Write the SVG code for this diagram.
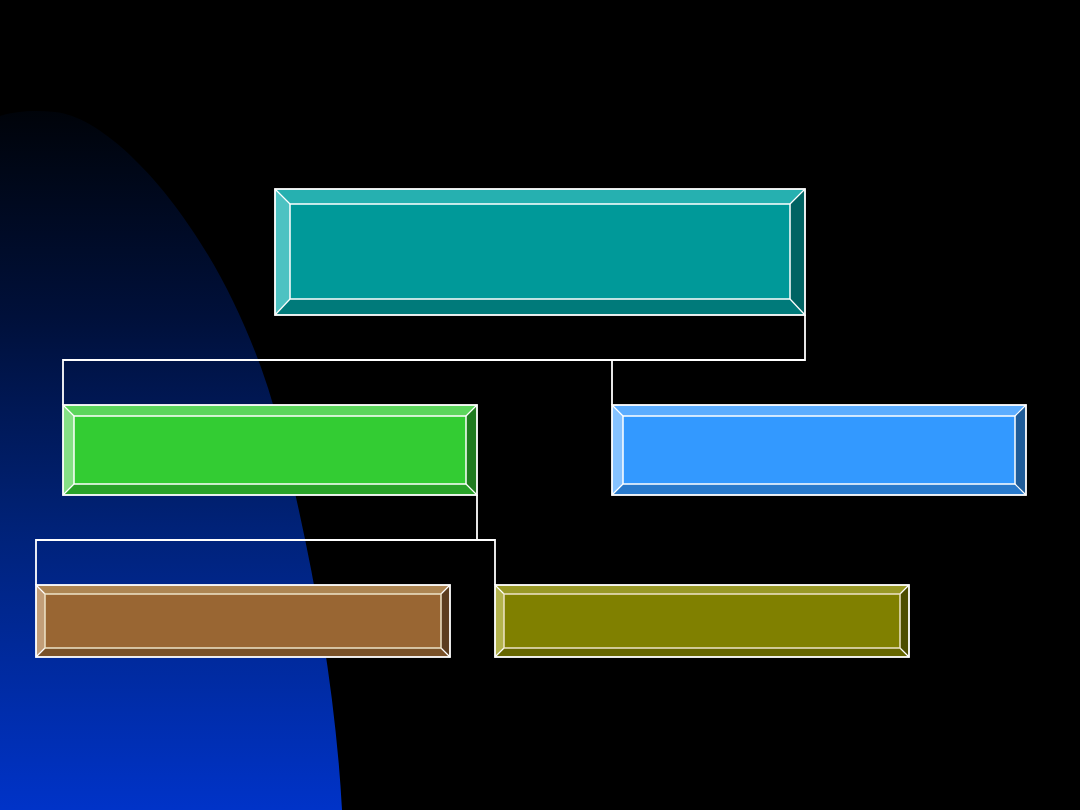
<svg xmlns="http://www.w3.org/2000/svg" width="1080" height="810" viewBox="0 0 1080 810">
<defs>
<linearGradient id="bg" gradientUnits="userSpaceOnUse" x1="0" y1="105" x2="0" y2="810">
<stop offset="0" stop-color="#000308"/>
<stop offset="0.3" stop-color="#00103a"/>
<stop offset="0.6" stop-color="#002278"/>
<stop offset="1" stop-color="#0033c8"/>
</linearGradient>
<style>
.edge{stroke:#ffffff;stroke-width:1.8;fill:none}
.inner{stroke:#ffffff;stroke-width:1.5;fill:none}
.innerc{stroke:#eee4c8;stroke-width:1.5;fill:none}
.diag{stroke:#ffffff;stroke-width:1.2}
.conn{stroke:#ffffff;stroke-width:1.8;fill:none}
</style>
</defs>
<rect width="1080" height="810" fill="#000000"/>
<path d="M0,116 C15,111 35,110 55,112 C120,118 235,250 280,430 C310,550 335,680 342,810 L0,810 Z" fill="url(#bg)"/>

<g id="connectors">
<polyline class="conn" points="805,315 805,360 63,360 63,405"/>
<line class="conn" x1="612" y1="360" x2="612" y2="405"/>
<polyline class="conn" points="477,495 477,540 36,540 36,585"/>
<polyline class="conn" points="477,540 495,540 495,585"/>
</g>

<g id="node-top">
<rect x="290" y="204" width="500" height="95" fill="#009999"/>
<polygon points="275,189 805,189 790,204 290,204" fill="#26b0b0"/>
<polygon points="275,189 290,204 290,299 275,315" fill="#4dc2c2"/>
<polygon points="275,315 290,299 790,299 805,315" fill="#007a7a"/>
<polygon points="805,189 805,315 790,299 790,204" fill="#006363"/>
<line class="diag" x1="275" y1="189" x2="290" y2="204"/>
<line class="diag" x1="805" y1="189" x2="790" y2="204"/>
<line class="diag" x1="275" y1="315" x2="290" y2="299"/>
<line class="diag" x1="805" y1="315" x2="790" y2="299"/>
<rect class="inner" x="290" y="204" width="500" height="95"/>
<rect class="edge" x="275" y="189" width="530" height="126"/>
</g>

<g id="node-green">
<rect x="74" y="416" width="392" height="68" fill="#33cc33"/>
<polygon points="63,405 477,405 466,416 74,416" fill="#5cd65c"/>
<polygon points="63,405 74,416 74,484 63,495" fill="#85e085"/>
<polygon points="63,495 74,484 466,484 477,495" fill="#29a329"/>
<polygon points="477,405 477,495 466,484 466,416" fill="#1f7a1f"/>
<line class="diag" x1="63" y1="405" x2="74" y2="416"/>
<line class="diag" x1="477" y1="405" x2="466" y2="416"/>
<line class="diag" x1="63" y1="495" x2="74" y2="484"/>
<line class="diag" x1="477" y1="495" x2="466" y2="484"/>
<rect class="inner" x="74" y="416" width="392" height="68"/>
<rect class="edge" x="63" y="405" width="414" height="90"/>
</g>

<g id="node-blue">
<rect x="623" y="416" width="392" height="68" fill="#3399ff"/>
<polygon points="612,405 1026,405 1015,416 623,416" fill="#5cadff"/>
<polygon points="612,405 623,416 623,484 612,495" fill="#85c2ff"/>
<polygon points="612,495 623,484 1015,484 1026,495" fill="#297acc"/>
<polygon points="1026,405 1026,495 1015,484 1015,416" fill="#1f5c99"/>
<line class="diag" x1="612" y1="405" x2="623" y2="416"/>
<line class="diag" x1="1026" y1="405" x2="1015" y2="416"/>
<line class="diag" x1="612" y1="495" x2="623" y2="484"/>
<line class="diag" x1="1026" y1="495" x2="1015" y2="484"/>
<rect class="inner" x="623" y="416" width="392" height="68"/>
<rect class="edge" x="612" y="405" width="414" height="90"/>
</g>

<g id="node-brown">
<rect x="45" y="594" width="396" height="54" fill="#996633"/>
<polygon points="36,585 450,585 441,594 45,594" fill="#ad8552"/>
<polygon points="36,585 45,594 45,648 36,657" fill="#c29e78"/>
<polygon points="36,657 45,648 441,648 450,657" fill="#7a5229"/>
<polygon points="450,585 450,657 441,648 441,594" fill="#5c3d1f"/>
<line class="diag" x1="36" y1="585" x2="45" y2="594"/>
<line class="diag" x1="450" y1="585" x2="441" y2="594"/>
<line class="diag" x1="36" y1="657" x2="45" y2="648"/>
<line class="diag" x1="450" y1="657" x2="441" y2="648"/>
<rect class="innerc" x="45" y="594" width="396" height="54"/>
<rect class="edge" x="36" y="585" width="414" height="72"/>
</g>

<g id="node-olive">
<rect x="504" y="594" width="396" height="54" fill="#808000"/>
<polygon points="495,585 909,585 900,594 504,594" fill="#999926"/>
<polygon points="495,585 504,594 504,648 495,657" fill="#b3b34d"/>
<polygon points="495,657 504,648 900,648 909,657" fill="#666600"/>
<polygon points="909,585 909,657 900,648 900,594" fill="#4d4d00"/>
<line class="diag" x1="495" y1="585" x2="504" y2="594"/>
<line class="diag" x1="909" y1="585" x2="900" y2="594"/>
<line class="diag" x1="495" y1="657" x2="504" y2="648"/>
<line class="diag" x1="909" y1="657" x2="900" y2="648"/>
<rect class="innerc" x="504" y="594" width="396" height="54"/>
<rect class="edge" x="495" y="585" width="414" height="72"/>
</g>
</svg>
